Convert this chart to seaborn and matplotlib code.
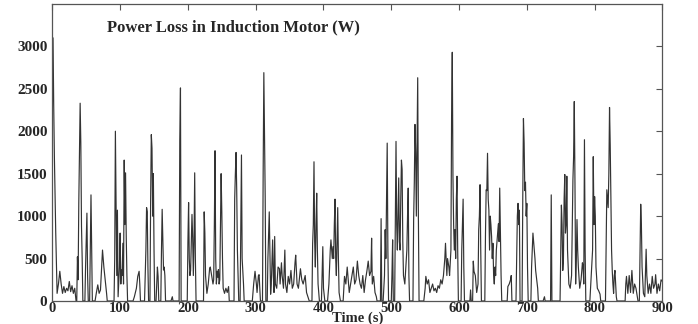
#!/usr/bin/env python3

import matplotlib
matplotlib.use("Agg")
import matplotlib.pyplot as plt
import seaborn as sns

# power loss readings (time in s, loss in W)
time_s = [
    0, 1, 2, 3, 5, 7, 9, 11, 13, 15, 17, 19, 21, 23, 25, 27, 29, 31, 33, 35,
    36, 37, 38, 39, 41, 42, 43, 44, 45, 48, 49, 51, 52, 53, 55, 56, 57, 58, 59,
    63, 65, 67, 69, 71, 73, 74, 76, 78, 80, 81, 91,
    92, 93, 94, 95, 96, 97, 99, 100, 101, 102, 103, 104, 105, 106, 107, 108, 109, 110, 111,
    119, 121, 124, 126, 128, 129, 130, 136, 138, 139, 140, 141, 142,
    144, 145, 146, 147, 148, 149, 150, 151, 153, 154, 155, 156, 157, 160, 161, 162, 163, 164, 165, 166, 167,
    175, 177, 178, 187, 188, 189, 190, 199, 200, 201, 202, 203, 204, 205, 206, 207, 208, 209, 210, 211, 212,
    223, 224, 225, 226, 228, 230, 232, 233, 235, 237, 238, 239, 240, 241, 242, 243, 244, 245, 246, 247,
    248, 249, 250, 251, 252, 254, 256, 258, 260, 261, 268, 269, 270, 271, 272, 273, 275, 277, 278, 279, 280, 282, 283,
    295, 297, 299, 301, 302, 304, 305, 307, 310, 311, 312, 313, 314, 315, 317,
    318, 320, 321, 322, 323, 325, 326, 327, 328, 329, 331, 333, 335, 336, 338, 339, 341, 343, 344, 346, 348, 350, 352,
    354, 356, 358, 359, 361, 363, 365, 366, 368, 370, 373, 375, 377, 379,
    383, 384, 385, 386, 387, 388, 389, 390, 391, 392, 394, 397, 398, 399, 400, 402,
    406, 408, 410, 411, 413, 414, 415, 416, 417, 418, 419, 420, 421, 422, 423, 425,
    429, 431, 433, 435, 436, 438, 440, 442, 444, 446, 448, 450, 452, 454, 456, 458,
    460, 462, 464, 466, 468, 470, 471, 472, 474, 476, 478, 479, 484, 485, 486,
    488, 490, 491, 492, 493, 494, 495, 496, 500, 501, 502, 503,
    505, 506, 507, 508, 509, 510, 511, 512, 513, 514, 515, 516, 517, 518, 520, 523, 524, 525, 526, 527,
    532, 533, 534, 535, 536, 537, 538, 539, 540, 541,
    548, 550, 551, 553, 555, 557, 559, 561, 563, 565, 567, 569, 571, 573, 575, 577,
    579, 580, 582, 583, 585, 586, 588, 589, 590, 591, 592, 593, 594, 595, 596, 597, 598, 599,
    603, 604, 605, 606, 607, 608, 616, 617, 618, 620, 621, 622, 624, 626, 628, 629, 630, 631, 632, 633,
    638, 639, 640, 641, 642, 643, 644, 645, 646, 647, 648, 649, 650, 651, 652, 653, 654, 655, 656, 657, 658, 659, 660, 661, 662, 663,
    671, 672, 674, 676, 677, 678, 684, 685, 686, 687, 688, 689, 690, 693, 694, 695, 696, 697, 698, 699, 700, 701, 702,
    706, 707, 708, 709, 710, 711, 712, 713, 714, 716, 717, 724, 726, 727, 735, 736, 737,
    749, 750, 751, 752, 753, 754, 755, 756, 757, 758, 759, 760, 762, 764, 766, 767, 768, 769, 770, 771, 772,
    773, 774, 775, 776, 778, 780, 782, 783, 784, 785, 786, 787, 793, 795, 797, 798, 799, 800, 801, 802, 804, 806, 808, 809,
    816, 817, 818, 819, 820, 821, 822, 823, 824, 825, 826, 827, 828, 829, 830, 831, 832, 833,
    845, 846, 847, 849, 851, 852, 853, 855, 857, 859, 861, 863, 864, 866, 867, 868, 869, 870, 872,
    874, 876, 877, 879, 881, 883, 885, 887, 889, 890, 892, 894, 896, 898, 900,
]
loss_w = [
    2200, 3100, 2300, 1700, 800, 90, 200, 350, 200, 90, 170, 100, 150, 120, 230, 110, 180, 90, 150, 0,
    0, 520, 250, 1150, 2330, 1860, 880, 500, 0, 0, 400, 1035, 300, 0, 0, 600, 1250, 620, 0,
    0, 100, 190, 90, 130, 450, 600, 400, 250, 90, 0, 0,
    500, 2000, 1110, 300, 1070, 50, 400, 800, 200, 365, 300, 680, 200, 1660, 900, 1510, 760, 300, 0,
    0, 50, 150, 290, 350, 200, 0, 0, 600, 1100, 1050, 400, 0,
    0, 1200, 1960, 1800, 1000, 1500, 600, 0, 0, 200, 400, 290, 0, 0, 600, 1080, 700, 365, 400, 300, 0,
    0, 50, 0, 0, 1900, 2510, 0, 0, 700, 1160, 500, 300, 360, 700, 1020, 750, 300, 700, 1510, 500, 0,
    0, 1050, 800, 300, 90, 200, 380, 400, 300, 200, 250, 900, 1770, 500, 200, 350, 280, 370, 200, 250,
    900, 1500, 1050, 500, 150, 90, 150, 100, 170, 0, 0, 1200, 1500, 1750, 1300, 600, 0, 0, 900, 1720, 500, 200, 0,
    0, 200, 350, 200, 100, 300, 310, 0, 0, 1500, 2690, 1940, 1230, 0, 0,
    500, 1050, 600, 80, 200, 720, 300, 100, 760, 200, 150, 400, 380, 200, 450, 300, 150, 600, 200, 100, 290, 200, 360,
    150, 200, 450, 540, 200, 150, 300, 380, 250, 200, 300, 100, 50, 0,
    0, 680, 900, 1640, 700, 400, 900, 1270, 600, 200, 0, 0, 300, 640, 150, 0,
    0, 200, 600, 720, 500, 640, 500, 900, 1200, 500, 300, 700, 1100, 500, 100, 0,
    0, 290, 200, 400, 300, 100, 200, 300, 400, 200, 250, 470, 300, 200, 150, 300,
    100, 250, 350, 470, 300, 350, 740, 200, 290, 100, 50, 0, 0, 970, 0,
    0, 300, 840, 500, 1200, 1860, 600, 0, 0, 300, 720, 0,
    0, 1000, 1880, 900, 600, 1000, 1450, 700, 600, 1200, 1660, 1550, 700, 300, 200, 600, 1000, 1330, 300, 0,
    0, 960, 1400, 2080, 1740, 1000, 1800, 2630, 1000, 0,
    0, 150, 290, 200, 250, 100, 150, 200, 120, 150, 100, 180, 150, 250, 200, 300,
    500, 680, 300, 500, 400, 300, 600, 2180, 2930, 1470, 900, 600, 840, 500, 1200, 1470, 600, 0,
    0, 600, 900, 1200, 400, 0, 0, 130, 0, 0, 470, 350, 300, 100, 200, 840, 1000, 1370, 600, 0,
    0, 800, 1310, 1300, 1740, 1200, 1070, 600, 1000, 900, 760, 500, 680, 300, 200, 400, 300, 600, 700, 800, 910, 700, 1330, 800, 300, 0,
    0, 170, 200, 250, 300, 0, 0, 500, 1000, 1150, 900, 1070, 0, 0, 1200, 2150, 1860, 1300, 1400, 1000, 1150, 400, 0,
    0, 400, 600, 800, 700, 600, 500, 360, 290, 150, 0, 0, 50, 0, 0, 1250, 0,
    0, 600, 1130, 900, 360, 500, 1200, 1490, 800, 900, 1470, 600, 200, 150, 300, 900, 1430, 1700, 2350, 1400, 200,
    500, 960, 600, 400, 150, 250, 450, 400, 200, 1900, 600, 0, 0, 300, 600, 1700, 900, 1230, 1000, 400, 150, 120, 80, 0,
    0, 700, 1310, 1200, 1100, 1500, 2280, 1840, 1200, 600, 360, 200, 90, 300, 360, 200, 50, 0,
    0, 200, 290, 90, 300, 200, 100, 360, 90, 200, 150, 50, 0, 0, 600, 1140, 900, 400, 90,
    50, 610, 300, 90, 200, 90, 290, 150, 200, 310, 90, 200, 120, 250, 230,
]
assert len(time_s) == len(loss_w)

x_ticks = list(range(0, 901, 100))
y_ticks = list(range(0, 3001, 500))

sns.set_style("white")
plt.rcParams["font.family"] = ["Liberation Serif", "DejaVu Serif"]
plt.rcParams["font.weight"] = "bold"

fig = plt.figure(figsize=(6.98, 3.24), dpi=100)
ax = fig.add_axes([0.075, 0.071, 0.874, 0.917])

sns.lineplot(x=time_s, y=loss_w, ax=ax, color="#333333", linewidth=0.85)

ax.set_xlim(0, 900)
ax.set_ylim(0, 3500)
ax.set_xticks(x_ticks)
ax.set_yticks(y_ticks)
ax.set_xticklabels([str(v) for v in x_ticks], fontsize=10.5, fontweight="bold")
ax.set_yticklabels([str(v) for v in y_ticks], fontsize=11, fontweight="bold")
ax.tick_params(axis="x", pad=1)
ax.tick_params(direction="in", top=True, right=True, length=4, width=0.8,
               color="#555555")
for s in ax.spines.values():
    s.set_color("#555555")
    s.set_linewidth(0.9)

ax.set_xlabel("Time (s)", fontsize=10.5, fontweight="bold", labelpad=-3)
ax.set_ylabel("")
ax.text(0.089, 0.92, "Power Loss in Induction Motor (W)", transform=ax.transAxes,
        fontsize=12, fontweight="bold", ha="left", va="center")

fig.savefig("out.png", dpi=100)
